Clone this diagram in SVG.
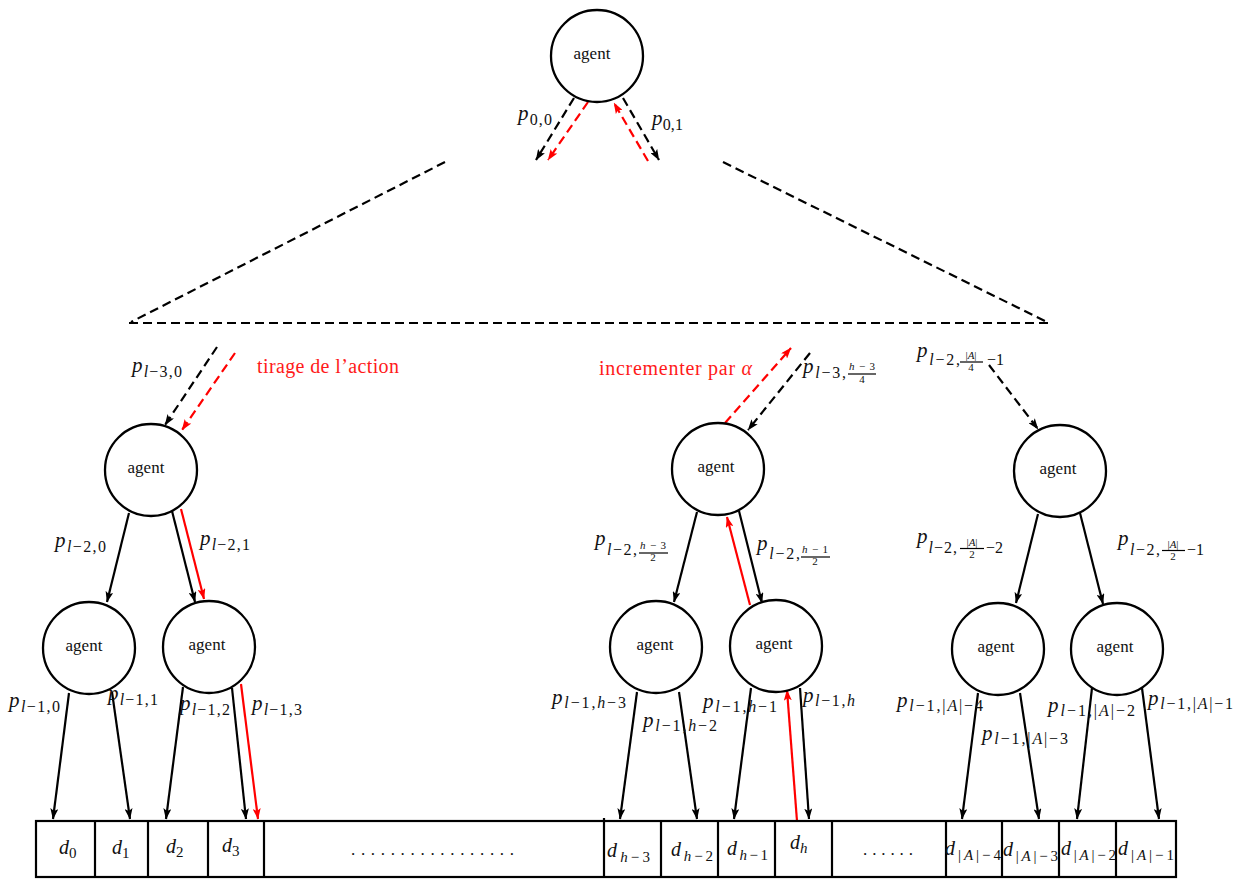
<svg xmlns="http://www.w3.org/2000/svg" width="1245" height="879" viewBox="0 0 1245 879">
<style>
  text { font-family: "Liberation Serif", "DejaVu Serif", serif; fill: #111; }
  .ag { font-size: 17px; text-anchor: middle; }
  .p { font-size: 21px; font-style: italic; }
  .s { font-size: 16px; font-style: normal; }
  .f { font-size: 11px; font-style: normal; text-anchor: middle; }
  .d { font-size: 20px; font-style: italic; }
  .ds { font-size: 15px; font-style: normal; }
  tspan.i { font-style: italic; }
  .red { fill: #ff1a1a; font-size: 20px; }
  .node { fill: #fff; stroke: #000; stroke-width: 2.3; }
  .e { stroke: #000; stroke-width: 2.2; fill: none; }
  .r { stroke: #ff0000; stroke-width: 2.2; fill: none; }
  .dash { stroke-dasharray: 9 5; }
  .fl { stroke: #000; stroke-width: 1.2; }
  .cell { fill: none; stroke: #000; stroke-width: 2.2; }
</style>
<defs>
  <marker id="ak" viewBox="0 0 11 8" refX="10.5" refY="4" markerWidth="11" markerHeight="8" markerUnits="userSpaceOnUse" orient="auto">
    <path d="M0,0 L11,4 L0,8 L2.4,4 z" fill="#000"/>
  </marker>
  <marker id="ar" viewBox="0 0 11 8" refX="10.5" refY="4" markerWidth="11" markerHeight="8" markerUnits="userSpaceOnUse" orient="auto">
    <path d="M0,0 L11,4 L0,8 L2.4,4 z" fill="#ff0000"/>
  </marker>
</defs>
<rect width="1245" height="879" fill="#fff"/>

<!-- elided middle part of the tree -->
<g id="triangle" class="e dash">
  <line x1="445" y1="162" x2="131" y2="322"/>
  <line x1="723" y1="162" x2="1049" y2="323"/>
  <line x1="129" y1="323" x2="1049" y2="323"/>
</g>

<!-- connectors -->
<g id="connectors">
  <!-- root -->
  <line class="e dash" x1="574" y1="98" x2="536" y2="160" marker-end="url(#ak)"/>
  <line class="r dash" x1="588" y1="102" x2="548" y2="160" marker-end="url(#ar)"/>
  <line class="r dash" x1="648" y1="161" x2="614" y2="103" marker-end="url(#ar)"/>
  <line class="e dash" x1="623" y1="98" x2="659" y2="160" marker-end="url(#ak)"/>
  <!-- into level l-2 -->
  <line class="e dash" x1="217" y1="347" x2="165" y2="425" marker-end="url(#ak)"/>
  <line class="r dash" x1="235" y1="353" x2="182" y2="430" marker-end="url(#ar)"/>
  <line class="r dash" x1="725" y1="423" x2="791" y2="348" marker-end="url(#ar)"/>
  <line class="e dash" x1="810" y1="353" x2="748" y2="430" marker-end="url(#ak)"/>
  <line class="e dash" x1="989" y1="365" x2="1038" y2="429" marker-end="url(#ak)"/>
  <!-- level l-2 to l-1 -->
  <line class="e" x1="129" y1="513" x2="107" y2="602" marker-end="url(#ak)"/>
  <line class="e" x1="172" y1="511" x2="195" y2="602" marker-end="url(#ak)"/>
  <line class="r" x1="181" y1="509" x2="204" y2="599" marker-end="url(#ar)"/>
  <line class="e" x1="697" y1="512" x2="674" y2="602" marker-end="url(#ak)"/>
  <line class="e" x1="739" y1="511" x2="762" y2="603" marker-end="url(#ak)"/>
  <line class="r" x1="750" y1="605" x2="727" y2="517" marker-end="url(#ar)"/>
  <line class="e" x1="1038" y1="514" x2="1016" y2="603" marker-end="url(#ak)"/>
  <line class="e" x1="1080" y1="513" x2="1103" y2="604" marker-end="url(#ak)"/>
  <!-- level l-1 to the array -->
  <line class="e" x1="69" y1="693" x2="53" y2="819" marker-end="url(#ak)"/>
  <line class="e" x1="112" y1="692" x2="130" y2="819" marker-end="url(#ak)"/>
  <line class="e" x1="183" y1="687" x2="166" y2="819" marker-end="url(#ak)"/>
  <line class="e" x1="232" y1="688" x2="246" y2="819" marker-end="url(#ak)"/>
  <line class="r" x1="241" y1="684" x2="258" y2="819" marker-end="url(#ar)"/>
  <line class="e" x1="637" y1="692" x2="620" y2="819" marker-end="url(#ak)"/>
  <line class="e" x1="679" y1="692" x2="697" y2="819" marker-end="url(#ak)"/>
  <line class="e" x1="751" y1="688" x2="734" y2="819" marker-end="url(#ak)"/>
  <line class="e" x1="800" y1="688" x2="809" y2="819" marker-end="url(#ak)"/>
  <line class="r" x1="797" y1="821" x2="787" y2="690" marker-end="url(#ar)"/>
  <line class="e" x1="978" y1="693" x2="962" y2="819" marker-end="url(#ak)"/>
  <line class="e" x1="1020" y1="693" x2="1039" y2="819" marker-end="url(#ak)"/>
  <line class="e" x1="1092" y1="688" x2="1077" y2="819" marker-end="url(#ak)"/>
  <line class="e" x1="1142" y1="688" x2="1159" y2="819" marker-end="url(#ak)"/>
</g>

<!-- nodes -->
<g id="n-root"><circle class="node" cx="597" cy="56" r="46"/><text class="ag" x="592" y="59">agent</text></g>
<g id="n-a"><circle class="node" cx="151" cy="470" r="46"/><text class="ag" x="146" y="473">agent</text></g>
<g id="n-b"><circle class="node" cx="718" cy="469" r="46"/><text class="ag" x="716" y="472">agent</text></g>
<g id="n-c"><circle class="node" cx="1060" cy="471" r="46"/><text class="ag" x="1058" y="474">agent</text></g>
<g id="n-a0"><circle class="node" cx="89" cy="648" r="46"/><text class="ag" x="84" y="651">agent</text></g>
<g id="n-a1"><circle class="node" cx="209" cy="647" r="46"/><text class="ag" x="207" y="650">agent</text></g>
<g id="n-b0"><circle class="node" cx="656" cy="647" r="46"/><text class="ag" x="655" y="650">agent</text></g>
<g id="n-b1"><circle class="node" cx="776" cy="646" r="46"/><text class="ag" x="774" y="649">agent</text></g>
<g id="n-c0"><circle class="node" cx="998" cy="649" r="46"/><text class="ag" x="996" y="652">agent</text></g>
<g id="n-c1"><circle class="node" cx="1117" cy="649" r="46"/><text class="ag" x="1115" y="652">agent</text></g>

<!-- array of cells -->
<g id="array">
  <rect class="cell" x="36" y="821" width="1140" height="56"/>
  <g class="e">
    <line x1="95" y1="821" x2="95" y2="877"/>
    <line x1="148" y1="821" x2="148" y2="877"/>
    <line x1="208" y1="821" x2="208" y2="877"/>
    <line x1="264" y1="821" x2="264" y2="877"/>
    <line x1="604" y1="818" x2="604" y2="877"/>
    <line x1="661" y1="821" x2="661" y2="877"/>
    <line x1="718" y1="821" x2="718" y2="877"/>
    <line x1="775" y1="821" x2="775" y2="877"/>
    <line x1="832" y1="821" x2="832" y2="877"/>
    <line x1="946" y1="821" x2="946" y2="877"/>
    <line x1="1002" y1="821" x2="1002" y2="877"/>
    <line x1="1059" y1="821" x2="1059" y2="877"/>
    <line x1="1116" y1="821" x2="1116" y2="877"/>
  </g>
  <text class="d" x="59" y="854">d<tspan class="ds" dy="4">0</tspan></text>
  <text class="d" x="112" y="854">d<tspan class="ds" dy="4">1</tspan></text>
  <text class="d" x="166" y="853">d<tspan class="ds" dy="4">2</tspan></text>
  <text class="d" x="222" y="852">d<tspan class="ds" dy="4">3</tspan></text>
  <text x="351" y="855" font-size="17" textLength="163" lengthAdjust="spacing">.................</text>
  <text class="d" x="607" y="857" textLength="43" lengthAdjust="spacing">d<tspan class="ds" dy="5"><tspan class="i">h</tspan>−3</tspan></text>
  <text class="d" x="671" y="856" textLength="42" lengthAdjust="spacing">d<tspan class="ds" dy="5"><tspan class="i">h</tspan>−2</tspan></text>
  <text class="d" x="727" y="855" textLength="41" lengthAdjust="spacing">d<tspan class="ds" dy="5"><tspan class="i">h</tspan>−1</tspan></text>
  <text class="d" x="790" y="849">d<tspan class="ds" dy="4"><tspan class="i">h</tspan></tspan></text>
  <text x="863" y="855" font-size="17" textLength="50" lengthAdjust="spacing">......</text>
  <text class="d" x="945" y="855" textLength="56" lengthAdjust="spacing">d<tspan class="ds" dy="5">|<tspan class="i">A</tspan>|−4</tspan></text>
  <text class="d" x="1003" y="856" textLength="55" lengthAdjust="spacing">d<tspan class="ds" dy="5">|<tspan class="i">A</tspan>|−3</tspan></text>
  <text class="d" x="1061" y="855" textLength="55" lengthAdjust="spacing">d<tspan class="ds" dy="5">|<tspan class="i">A</tspan>|−2</tspan></text>
  <text class="d" x="1118" y="855" textLength="56" lengthAdjust="spacing">d<tspan class="ds" dy="5">|<tspan class="i">A</tspan>|−1</tspan></text>
</g>

<!-- edge labels -->
<g id="labels">
  <text class="p" x="518" y="120" textLength="34" lengthAdjust="spacing">p<tspan class="s" dy="5">0,0</tspan></text>
  <text class="p" x="652" y="125" textLength="31" lengthAdjust="spacing">p<tspan class="s" dy="5">0,1</tspan></text>
  <text class="p" x="132" y="372" textLength="50" lengthAdjust="spacing">p<tspan class="s" dy="5"><tspan class="i">l</tspan>−3,0</tspan></text>
  <text class="red" x="257" y="373" textLength="142" lengthAdjust="spacing">tirage de l’action</text>
  <text class="red" x="599" y="375" textLength="153" lengthAdjust="spacing">incrementer par <tspan class="i">α</tspan></text>

  <!-- p_{l-3,(h-3)/4} -->
  <text class="p" x="803" y="373" textLength="43" lengthAdjust="spacing">p<tspan class="s" dy="5"><tspan class="i">l</tspan>−3,</tspan></text>
  <text class="f" x="862" y="370" textLength="26" lengthAdjust="spacing"><tspan class="i">h</tspan>−3</text>
  <line class="fl" x1="848" y1="374" x2="876" y2="374"/>
  <text class="f" x="862" y="383">4</text>

  <!-- p_{l-2,|A|/4-1} -->
  <text class="p" x="917" y="357" textLength="43" lengthAdjust="spacing">p<tspan class="s" dy="8"><tspan class="i">l</tspan>−2,</tspan></text>
  <text class="f" x="971" y="359">|<tspan class="i">A</tspan>|</text>
  <line class="fl" x1="960" y1="362" x2="983" y2="362"/>
  <text class="f" x="971" y="371">4</text>
  <text class="s" x="987" y="365">−1</text>

  <text class="p" x="55" y="547" textLength="51" lengthAdjust="spacing">p<tspan class="s" dy="5"><tspan class="i">l</tspan>−2,0</tspan></text>
  <text class="p" x="200" y="545" textLength="50" lengthAdjust="spacing">p<tspan class="s" dy="5"><tspan class="i">l</tspan>−2,1</tspan></text>

  <!-- p_{l-2,(h-3)/2} -->
  <text class="p" x="595" y="545" textLength="42" lengthAdjust="spacing">p<tspan class="s" dy="10"><tspan class="i">l</tspan>−2,</tspan></text>
  <text class="f" x="653" y="549" textLength="26" lengthAdjust="spacing"><tspan class="i">h</tspan>−3</text>
  <line class="fl" x1="639" y1="553" x2="668" y2="553"/>
  <text class="f" x="653" y="561">2</text>

  <!-- p_{l-2,(h-1)/2} -->
  <text class="p" x="757" y="550" textLength="43" lengthAdjust="spacing">p<tspan class="s" dy="9"><tspan class="i">l</tspan>−2,</tspan></text>
  <text class="f" x="815" y="553" textLength="26" lengthAdjust="spacing"><tspan class="i">h</tspan>−1</text>
  <line class="fl" x1="801" y1="557" x2="830" y2="557"/>
  <text class="f" x="815" y="565">2</text>

  <!-- p_{l-2,|A|/2-2} -->
  <text class="p" x="917" y="543" textLength="40" lengthAdjust="spacing">p<tspan class="s" dy="10"><tspan class="i">l</tspan>−2,</tspan></text>
  <text class="f" x="972" y="546">|<tspan class="i">A</tspan>|</text>
  <line class="fl" x1="960" y1="548.5" x2="984" y2="548.5"/>
  <text class="f" x="972" y="558">2</text>
  <text class="s" x="986" y="553">−2</text>

  <!-- p_{l-2,|A|/2-1} -->
  <text class="p" x="1118" y="545" textLength="42" lengthAdjust="spacing">p<tspan class="s" dy="10"><tspan class="i">l</tspan>−2,</tspan></text>
  <text class="f" x="1173" y="548">|<tspan class="i">A</tspan>|</text>
  <line class="fl" x1="1162" y1="550.5" x2="1185" y2="550.5"/>
  <text class="f" x="1173" y="560">2</text>
  <text class="s" x="1187" y="555">−1</text>

  <text class="p" x="9" y="707" textLength="51" lengthAdjust="spacing">p<tspan class="s" dy="5"><tspan class="i">l</tspan>−1,0</tspan></text>
  <text class="p" x="108" y="700" textLength="50" lengthAdjust="spacing">p<tspan class="s" dy="5"><tspan class="i">l</tspan>−1,1</tspan></text>
  <text class="p" x="180" y="710" textLength="50" lengthAdjust="spacing">p<tspan class="s" dy="5"><tspan class="i">l</tspan>−1,2</tspan></text>
  <text class="p" x="252" y="710" textLength="50" lengthAdjust="spacing">p<tspan class="s" dy="5"><tspan class="i">l</tspan>−1,3</tspan></text>
  <text class="p" x="552" y="704" textLength="74" lengthAdjust="spacing">p<tspan class="s" dy="4"><tspan class="i">l</tspan>−1,<tspan class="i">h</tspan>−3</tspan></text>
  <text class="p" x="643" y="727" textLength="74" lengthAdjust="spacing">p<tspan class="s" dy="4"><tspan class="i">l</tspan>−1,<tspan class="i">h</tspan>−2</tspan></text>
  <text class="p" x="703" y="708" textLength="74" lengthAdjust="spacing">p<tspan class="s" dy="4"><tspan class="i">l</tspan>−1,<tspan class="i">h</tspan>−1</tspan></text>
  <text class="p" x="803" y="702" textLength="52" lengthAdjust="spacing">p<tspan class="s" dy="4"><tspan class="i">l</tspan>−1,<tspan class="i">h</tspan></tspan></text>
  <text class="p" x="897" y="707" textLength="86" lengthAdjust="spacing">p<tspan class="s" dy="4"><tspan class="i">l</tspan>−1,|<tspan class="i">A</tspan>|−4</tspan></text>
  <text class="p" x="982" y="740" textLength="86" lengthAdjust="spacing">p<tspan class="s" dy="4"><tspan class="i">l</tspan>−1,|<tspan class="i">A</tspan>|−3</tspan></text>
  <text class="p" x="1048" y="712" textLength="87" lengthAdjust="spacing">p<tspan class="s" dy="4"><tspan class="i">l</tspan>−1,|<tspan class="i">A</tspan>|−2</tspan></text>
  <text class="p" x="1148" y="705" textLength="85" lengthAdjust="spacing">p<tspan class="s" dy="4"><tspan class="i">l</tspan>−1,|<tspan class="i">A</tspan>|−1</tspan></text>
</g>
</svg>
